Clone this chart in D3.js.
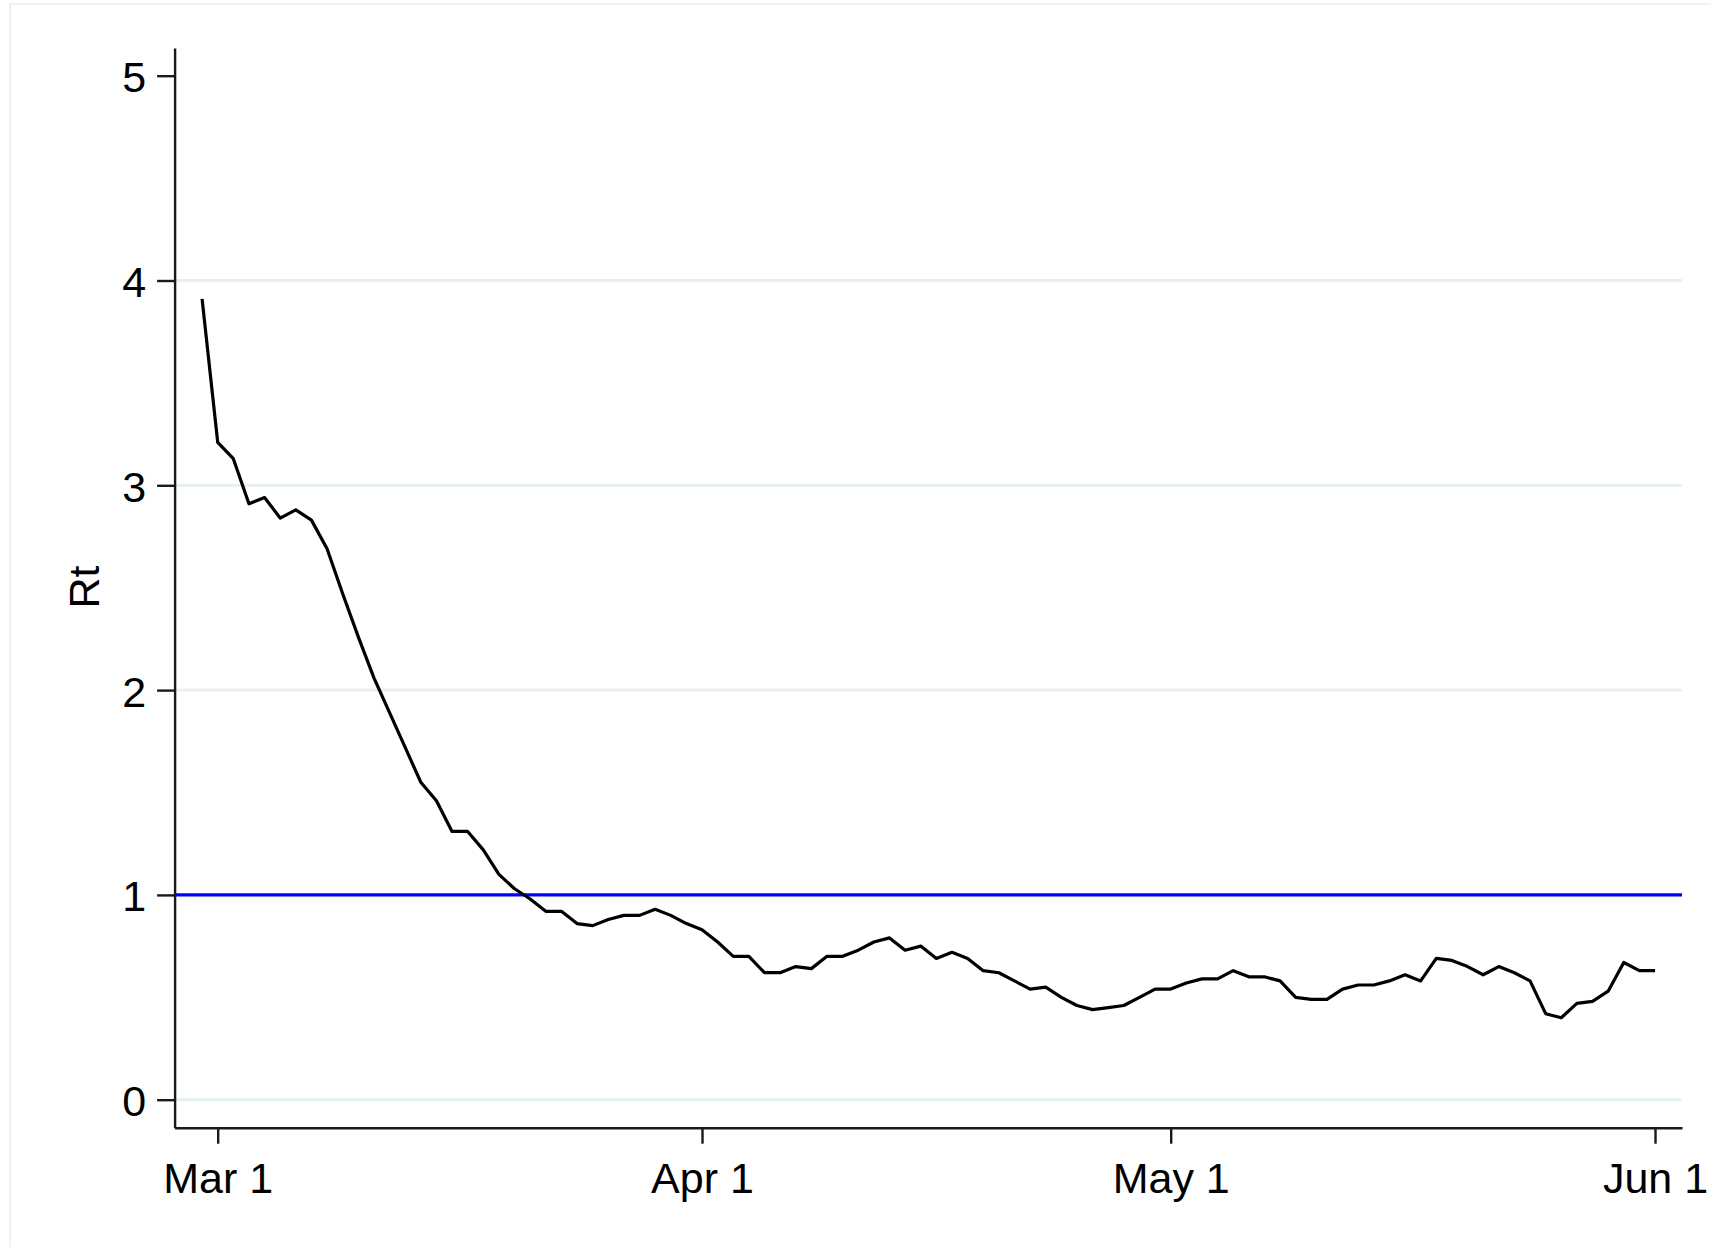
<!DOCTYPE html>
<html>
<head>
<meta charset="utf-8">
<script src="https://cdn.jsdelivr.net/npm/d3@7"></script>
<style>
  html, body { margin: 0; padding: 0; background: #ffffff; }
  svg { display: block; }
  text { font-family: "Liberation Sans", Arial, sans-serif; fill: #000; }
</style>
</head>
<body>
<svg id="chart" width="1711" height="1247"></svg>
<script>
// ---- data ----
const dates = [
  "2020-02-29",
  "2020-03-01","2020-03-02","2020-03-03","2020-03-04","2020-03-05","2020-03-06","2020-03-07","2020-03-08","2020-03-09","2020-03-10",
  "2020-03-11","2020-03-12","2020-03-13","2020-03-14","2020-03-15","2020-03-16","2020-03-17","2020-03-18","2020-03-19","2020-03-20",
  "2020-03-21","2020-03-22","2020-03-23","2020-03-24","2020-03-25","2020-03-26","2020-03-27","2020-03-28","2020-03-29","2020-03-30","2020-03-31",
  "2020-04-01","2020-04-02","2020-04-03","2020-04-04","2020-04-05","2020-04-06","2020-04-07","2020-04-08","2020-04-09","2020-04-10",
  "2020-04-11","2020-04-12","2020-04-13","2020-04-14","2020-04-15","2020-04-16","2020-04-17","2020-04-18","2020-04-19","2020-04-20",
  "2020-04-21","2020-04-22","2020-04-23","2020-04-24","2020-04-25","2020-04-26","2020-04-27","2020-04-28","2020-04-29","2020-04-30",
  "2020-05-01","2020-05-02","2020-05-03","2020-05-04","2020-05-05","2020-05-06","2020-05-07","2020-05-08","2020-05-09","2020-05-10",
  "2020-05-11","2020-05-12","2020-05-13","2020-05-14","2020-05-15","2020-05-16","2020-05-17","2020-05-18","2020-05-19","2020-05-20",
  "2020-05-21","2020-05-22","2020-05-23","2020-05-24","2020-05-25","2020-05-26","2020-05-27","2020-05-28","2020-05-29","2020-05-30","2020-05-31",
  "2020-06-01"
];
const rt = [
  3.91,
  3.21, 3.13, 2.91, 2.94, 2.84, 2.88, 2.83, 2.69, 2.47, 2.26,
  2.06, 1.89, 1.72, 1.55, 1.46, 1.31, 1.31, 1.22, 1.10, 1.03,
  0.98, 0.92, 0.92, 0.86, 0.85, 0.88, 0.90, 0.90, 0.93, 0.90, 0.86,
  0.83, 0.77, 0.70, 0.70, 0.62, 0.62, 0.65, 0.64, 0.70, 0.70,
  0.73, 0.77, 0.79, 0.73, 0.75, 0.69, 0.72, 0.69, 0.63, 0.62,
  0.58, 0.54, 0.55, 0.50, 0.46, 0.44, 0.45, 0.46, 0.50, 0.54,
  0.54, 0.57, 0.59, 0.59, 0.63, 0.60, 0.60, 0.58, 0.50, 0.49,
  0.49, 0.54, 0.56, 0.56, 0.58, 0.61, 0.58, 0.69, 0.68, 0.65,
  0.61, 0.65, 0.62, 0.58, 0.42, 0.40, 0.47, 0.48, 0.53, 0.67, 0.63,
  0.63
];
const xTickDates = ["2020-03-01", "2020-04-01", "2020-05-01", "2020-06-01"];
const xTickLabels = ["Mar 1", "Apr 1", "May 1", "Jun 1"];
const yTicks = [0, 1, 2, 3, 4, 5];
const gridValues = [0, 2, 3, 4];
const refValue = 1;
const yLabel = "Rt";

// ---- layout ----
const parse = d3.utcParse("%Y-%m-%d");
const DAY = 86400000;
const plotLeft = 174.6, plotRight = 1682, plotTop = 48, plotBottom = 1127.7;
const pxPerDay = 15.623;
const mar1 = parse("2020-03-01").getTime();
const x = d3.scaleUtc()
  .domain([new Date(mar1 - (217.7 - plotLeft) / pxPerDay * DAY),
           new Date(mar1 + (plotRight - 217.7) / pxPerDay * DAY)])
  .range([plotLeft, plotRight]);
const pxPerUnit = 204.8, y0px = 1099.7;
const y = d3.scaleLinear()
  .domain([(y0px - plotBottom) / pxPerUnit, (y0px - plotTop) / pxPerUnit])
  .range([plotBottom, plotTop]);

const svg = d3.select("#chart");

// faint outer frame (graph region)
svg.append("rect")
  .attr("x", 10).attr("y", 4).attr("width", 1760).attr("height", 1300)
  .attr("fill", "none").attr("stroke", "#ececec").attr("stroke-width", 1.5);

// gridlines
svg.append("g").selectAll("line").data(gridValues).join("line")
  .attr("x1", plotLeft).attr("x2", plotRight)
  .attr("y1", d => y(d)).attr("y2", d => y(d))
  .attr("stroke", "#e6eff2").attr("stroke-width", 2.8);

// reference line at 1
svg.append("line")
  .attr("x1", plotLeft).attr("x2", plotRight)
  .attr("y1", y(refValue)).attr("y2", y(refValue))
  .attr("stroke", "#0000ff").attr("stroke-width", 3.2);

// data line
const pts = dates.map((d, i) => ({ date: parse(d), v: rt[i] }));
svg.append("path")
  .datum(pts)
  .attr("fill", "none")
  .attr("stroke", "#000")
  .attr("stroke-width", 3.2)
  .attr("stroke-linejoin", "round")
  .attr("d", d3.line().x(d => x(d.date)).y(d => y(d.v)));

// y axis
const yAxis = svg.append("g")
  .attr("transform", `translate(${plotLeft},0)`)
  .call(d3.axisLeft(y).tickValues(yTicks).tickFormat(d3.format("d"))
        .tickSize(17.5).tickPadding(11).tickSizeOuter(0));
yAxis.select(".domain").attr("stroke", "#1a1a1a").attr("stroke-width", 2.4);
yAxis.selectAll(".tick line").attr("stroke", "#1a1a1a").attr("stroke-width", 2.4);
yAxis.selectAll(".tick text")
  .attr("font-size", 43).attr("dy", "0.37em")
  .style("font-family", "'Liberation Sans', Arial, sans-serif").attr("fill", "#000");

// x axis
const tickDates = xTickDates.map(parse);
const xAxis = svg.append("g")
  .attr("transform", `translate(0,${plotBottom})`)
  .call(d3.axisBottom(x).tickValues(tickDates)
        .tickFormat((d, i) => xTickLabels[i])
        .tickSize(16).tickPadding(10).tickSizeOuter(0));
xAxis.select(".domain").attr("stroke", "#1a1a1a").attr("stroke-width", 2.4);
xAxis.selectAll(".tick line").attr("stroke", "#1a1a1a").attr("stroke-width", 2.4);
xAxis.selectAll(".tick text")
  .attr("font-size", 43).attr("dy", null).attr("y", 65.5)
  .style("font-family", "'Liberation Sans', Arial, sans-serif").attr("fill", "#000");

// y axis title
svg.append("text")
  .attr("transform", "translate(98.5,587) rotate(-90)")
  .attr("text-anchor", "middle")
  .attr("font-size", 43)
  .text(yLabel);
</script>
</body>
</html>
